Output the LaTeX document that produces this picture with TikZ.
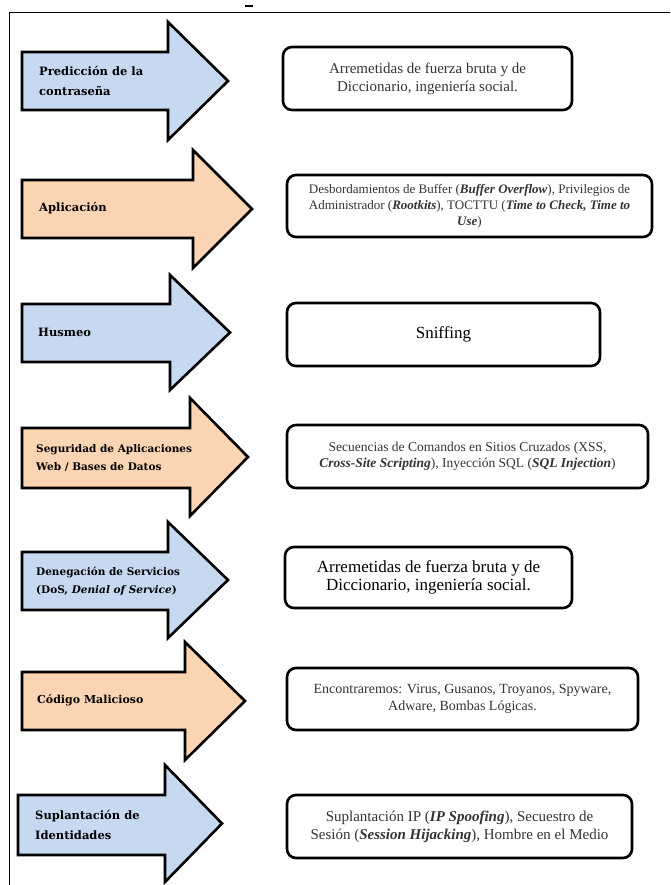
\documentclass[tikz,border=0pt]{standalone}
\usepackage{fontspec}
\setmainfont{Liberation Serif}
\newfontfamily\captionfont{DejaVu Serif}
\definecolor{arrblue}{HTML}{C6D9F1}
\definecolor{arrorange}{HTML}{FBD4B4}
\definecolor{boxtext}{HTML}{333333}

% block arrow: name, fill, left x, body top, body bottom, head base x, head top, head bottom, tip x
\newcommand\threatarrow[9]{%
  \draw[arrowshape, fill=#2] (#3,#4) -- (#6,#4) -- (#6,#7) -- (#9,{(#7+#8)/2})
    -- (#6,#8) -- (#6,#5) -- (#3,#5) -- cycle;
  \coordinate (#1) at (#3,{(#4+#5)/2});
}

\begin{document}
\begin{tikzpicture}[x=1pt,y=-1pt,
  arrowshape/.style={draw=black, line width=2.6pt, line join=miter},
  threatlabel/.style={anchor=west, align=left, inner sep=0pt,
    font=\captionfont\bfseries\fontsize{11.5}{20}\selectfont},
  infobox/.style={draw=black, line width=2.6pt, rounded corners=9pt,
    align=center, inner sep=0pt, outer sep=0pt, text=boxtext,
    font=\fontsize{13}{16}\selectfont},
  frameline/.style={draw=black, line width=1pt}
]
\useasboundingbox (0,0) rectangle (670,885);

% page frame and the small mark above it
\draw[frameline] (9,885) -- (9,13) -- (670,13);
\draw[line width=1.5pt] (245,6) -- (253,6);

% arrows
\threatarrow{a1}{arrblue}{22}{52}{110}{168}{22}{140}{228}
\threatarrow{a2}{arrorange}{22}{180}{238}{193}{150}{268}{252}
\threatarrow{a3}{arrblue}{22}{304}{362}{170}{275}{390}{230}
\threatarrow{a4}{arrorange}{22}{428}{488}{190}{398}{516}{248}
\threatarrow{a5}{arrblue}{22}{552}{610}{168}{522}{638}{228}
\threatarrow{a6}{arrorange}{22}{672}{730}{185}{642}{760}{245}
\threatarrow{a7}{arrblue}{18}{795}{855}{165}{765}{882}{222}

% arrow captions
\node[threatlabel] (l1) at ([xshift=17pt]a1) {Predicción de la\\contraseña};
\node[threatlabel] (l2) at ([xshift=17pt,yshift=1pt]a2) {Aplicación};
\node[threatlabel] (l3) at ([xshift=16pt,yshift=1pt]a3) {Husmeo};
\node[threatlabel, font=\captionfont\bfseries\fontsize{10.5}{18}\selectfont] (l4) at ([xshift=14pt]a4) {Seguridad de Aplicaciones\\Web / Bases de Datos};
\node[threatlabel, font=\captionfont\bfseries\fontsize{10.5}{18}\selectfont] (l5) at ([xshift=14pt]a5) {Denegación de Servicios\\(DoS, \textit{Denial of Service})};
\node[threatlabel, font=\captionfont\bfseries\fontsize{11}{18}\selectfont] (l6) at ([xshift=15pt,yshift=1pt]a6) {Código Malicioso};
\node[threatlabel] (l7) at ([xshift=17pt]a7) {Suplantación de\\Identidades};

% description boxes
\node[infobox, font=\fontsize{15}{18}\selectfont, minimum width=289pt, minimum height=63pt] (b1) at (427.5,78.5)
  {Arremetidas de fuerza bruta y de\\Diccionario, ingeniería social.};
\node[infobox, minimum width=365pt, minimum height=62pt] (b2) at (469.5,206)
  {Desbordamientos de Buffer (\textbf{\textit{Buffer Overflow}}), Privilegios de\\
   Administrador (\textbf{\textit{Rootkits}}), TOCTTU (\textbf{\textit{Time to Check, Time to}}\\
   \textbf{\textit{Use}})};
\node[infobox, text=black, font=\fontsize{17}{20}\selectfont, minimum width=313pt, minimum height=63pt] (b3) at (443.5,334.5)
  {Sniffing};
\node[infobox, font=\fontsize{13.5}{16}\selectfont, minimum width=361pt, minimum height=63pt] (b4) at (467.5,456.5)
  {Secuencias de Comandos en Sitios Cruzados (XSS,\\
   \textbf{\textit{Cross-Site Scripting}}), Inyección SQL (\textbf{\textit{SQL Injection}})};
\node[infobox, text=black, font=\fontsize{17}{18}\selectfont, minimum width=287pt, minimum height=61pt] (b5) at (428.5,577.5)
  {Arremetidas de fuerza bruta y de\\Diccionario, ingeniería social.};
\node[infobox, font=\fontsize{14}{17}\selectfont, minimum width=351pt, minimum height=62pt] (b6) at (462.5,699)
  {Encontraremos: Virus, Gusanos, Troyanos, Spyware,\\Adware, Bombas Lógicas.};
\node[infobox, font=\fontsize{15}{18}\selectfont, minimum width=345pt, minimum height=63pt] (b7) at (459.5,826.5)
  {Suplantación IP (\textbf{\textit{IP Spoofing}}), Secuestro de\\
   Sesión (\textbf{\textit{Session Hijacking}}), Hombre en el Medio};
\end{tikzpicture}
\end{document}
